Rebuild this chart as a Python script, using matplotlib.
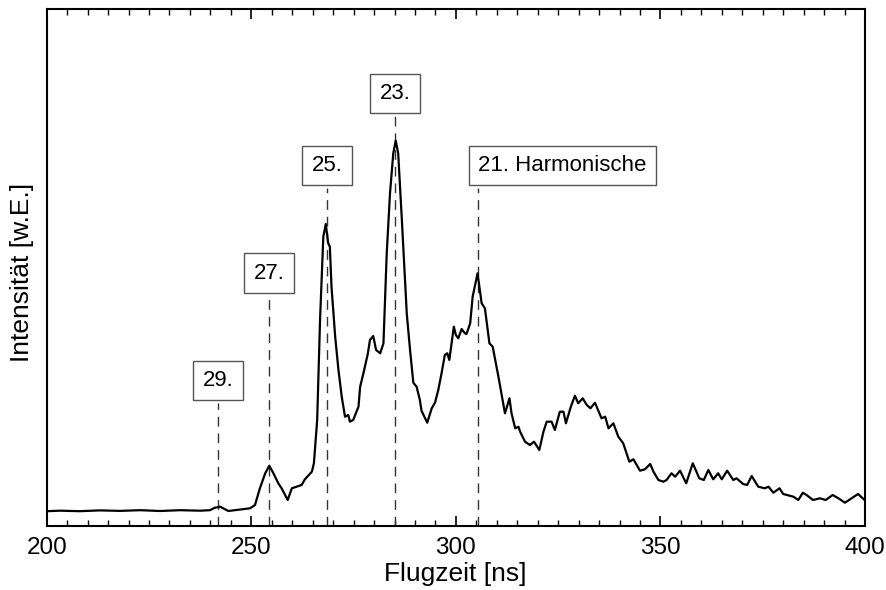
import matplotlib
matplotlib.use("Agg")
import matplotlib.pyplot as plt
from matplotlib.ticker import MultipleLocator

plt.rcParams['font.family'] = ['Liberation Sans', 'DejaVu Sans']

# Flight time [ns]
flugzeit = [200.0, 203.3, 208.1, 213.0, 217.9, 222.8, 227.7, 232.6, 237.5, 239.9,
            241.1, 242.4, 243.3, 244.4, 246.0, 247.2, 249.7, 250.9, 252.1, 253.4,
            254.4, 255.4, 256.6, 257.4, 258.9, 259.9, 261.1, 262.3, 263.1, 264.8,
            265.3, 265.8, 266.1, 266.8, 267.6, 268.2, 268.8, 269.2, 269.6, 270.5,
            271.3, 272.1, 272.9, 273.7, 274.1, 274.9, 276.2, 276.6, 277.4, 278.5,
            279.0, 279.8, 280.5, 281.5, 282.3, 283.1, 283.9, 284.7, 285.3, 285.9,
            286.8, 288.0, 288.8, 289.6, 290.4, 291.2, 291.6, 292.9, 293.0, 294.1,
            294.9, 295.7, 296.5, 297.3, 297.9, 298.4, 299.0, 299.5, 300.0, 300.6,
            301.4, 302.2, 302.6, 303.5, 304.1, 305.3, 306.3, 307.1, 308.2, 309.0,
            310.4, 312.0, 313.1, 313.6, 314.5, 315.3, 315.7, 316.9, 318.1, 319.1,
            320.4, 321.4, 322.2, 323.4, 324.2, 325.4, 326.3, 326.9, 328.1, 329.1,
            329.9, 331.0, 332.0, 332.9, 334.0, 335.6, 336.5, 337.3, 338.5, 339.7,
            340.9, 342.4, 343.4, 345.0, 346.2, 347.5, 348.3, 349.5, 350.7, 351.5,
            352.7, 353.6, 354.8, 356.3, 357.9, 359.5, 360.6, 361.7, 362.9, 364.1,
            365.0, 366.3, 367.8, 368.6, 370.2, 371.2, 372.3, 373.9, 375.5, 376.4,
            377.6, 379.1, 380.0, 382.5, 383.7, 384.8, 385.7, 387.3, 389.0, 390.4,
            392.1, 393.5, 395.1, 396.7, 398.3, 399.7]

# Intensity [arb. units]
intensitaet = [14.5, 15.0, 14.5, 15.3, 14.8, 15.5, 14.7, 15.5, 15.0, 15.5,
               18.0, 19.0, 17.0, 14.7, 15.5, 16.0, 17.4, 20.7, 37.4, 52.4,
               60.0, 52.4, 42.4, 37.4, 25.7, 37.4, 39.0, 40.7, 46.4, 54.0,
               62.4, 89.0, 105.7, 205.7, 289.0, 301.7, 282.4, 279.0, 239.0, 189.0,
               155.7, 129.0, 109.0, 110.7, 104.0, 105.7, 119.0, 139.0, 152.4, 172.4,
               185.7, 189.7, 175.7, 172.4, 182.4, 272.4, 332.4, 372.4, 385.0, 372.4,
               305.7, 212.0, 175.7, 143.0, 139.0, 125.7, 115.0, 104.0, 103.0, 117.4,
               123.0, 135.7, 152.4, 170.7, 172.4, 165.7, 184.0, 199.0, 190.7, 187.4,
               196.7, 192.4, 191.7, 202.4, 229.0, 252.4, 222.4, 217.4, 182.4, 179.0,
               149.0, 112.4, 127.4, 112.4, 97.4, 99.0, 94.0, 84.0, 80.7, 84.0,
               75.7, 94.0, 104.0, 104.0, 95.7, 114.0, 114.0, 102.4, 119.0, 130.0,
               122.4, 127.4, 120.7, 117.4, 123.0, 107.4, 109.0, 97.4, 102.4, 89.0,
               82.4, 64.0, 66.4, 55.0, 56.4, 61.7, 54.0, 45.7, 44.0, 45.7,
               52.4, 49.0, 55.0, 42.4, 62.4, 47.4, 45.7, 55.7, 46.4, 52.4,
               46.4, 55.0, 45.7, 47.4, 41.7, 40.7, 49.7, 39.0, 37.4, 39.0,
               33.0, 37.4, 31.7, 29.0, 25.7, 33.0, 30.7, 25.7, 27.4, 25.7,
               30.7, 27.4, 23.0, 27.4, 31.7, 26.4]

# Harmonic markers
marker_labels = ["29.", "27.", "25.", "23.", "21. Harmonische"]
marker_x = [241.9, 254.3, 268.5, 285.1, 305.4]
marker_line_top = [122.7, 230.7, 337.7, 409.7, 337.7]
marker_label_y = [145.2, 252.7, 360.2, 432.2, 360.2]

fig = plt.figure(figsize=(8.87, 5.90), dpi=100)
ax = fig.add_axes([0.0527, 0.109, 0.9225, 0.8752])

ax.plot(flugzeit, intensitaet, color='black', lw=1.6, zorder=3)

for lab, mx, top, ly in zip(marker_labels, marker_x, marker_line_top, marker_label_y):
    ax.plot([mx, mx], [0, top], color='#333333', lw=1.0,
            dashes=(7, 5), zorder=2)
    ha = 'left' if 'Harmonische' in lab else 'center'
    ax.text(mx, ly, lab, ha=ha, va='center', fontsize=16, color='black',
            bbox=dict(boxstyle='square,pad=0.42', facecolor='white',
                      edgecolor='#555555', linewidth=1.0), zorder=4)

ax.set_xlim(200, 400)
ax.set_ylim(0, 516.4)
ax.xaxis.set_major_locator(MultipleLocator(50))
ax.xaxis.set_minor_locator(MultipleLocator(5))
ax.set_yticks([])
ax.tick_params(axis='x', which='both', direction='in', top=True, bottom=True,
               labelsize=17.5, width=1.2, pad=8)
ax.tick_params(axis='x', which='major', length=7)
ax.tick_params(axis='x', which='minor', length=4, width=1.0)
for s in ax.spines.values():
    s.set_linewidth(1.5)

ax.set_xlabel('Flugzeit [ns]', fontsize=19, va='center')
ax.xaxis.set_label_coords(0.499, -0.094)
ax.set_ylabel('Intensität [w.E.]', fontsize=19, va='center')
ax.yaxis.set_label_coords(-0.0302, 0.49)

fig.savefig('out.png', dpi=100)
